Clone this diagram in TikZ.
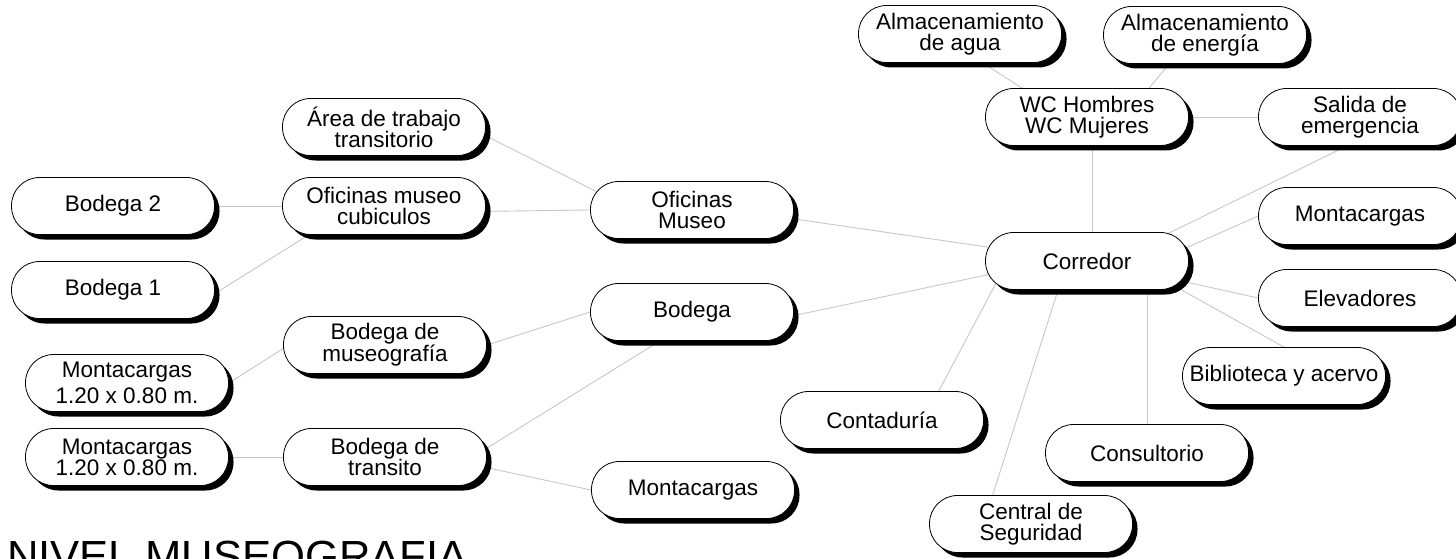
\documentclass[tikz,border=0pt]{standalone}
\usepackage{fontspec}
\setmainfont{Liberation Sans}
\usetikzlibrary{shadows,backgrounds}
\begin{document}
\begin{tikzpicture}[x=1pt,y=-1pt,
  room/.style={draw=black, line width=0.8pt, fill=white, rounded corners=28pt,
    minimum width=203pt, minimum height=57pt, inner sep=0pt, align=center,
    font=\fontsize{22.5}{21}\selectfont,
    drop shadow={shadow xshift=5pt, shadow yshift=-5pt, fill=black, opacity=1}},
  loose/.style={font=\fontsize{22.5}{26}\selectfont},
  link/.style={draw=black!22, line width=0.9pt, shorten <=-12pt, shorten >=-12pt}]
\useasboundingbox (0,0) rectangle (1456,559);
\clip (0,0) rectangle (1456,559);

% right-hand cluster around the corridor
\node[room] (agua)     at (960,34)   {Almacenamiento\\de agua};
\node[room] (energia)  at (1205,35)  {Almacenamiento\\de energía};
\node[room] (wc)       at (1087,117) {WC Hombres\\WC Mujeres};
\node[room] (salida)   at (1360,117) {Salida de\\emergencia};
\node[room] (montR)    at (1360,216) {Montacargas};
\node[room] (elev)     at (1360,298) {Elevadores};
\node[room] (biblio)   at (1284,376) {Biblioteca y acervo};
\node[room] (corredor) at (1087,261) {Corredor};
\node[room] (consul)   at (1147,453) {Consultorio};
\node[room] (conta)    at (882,420)  {Contaduría};
\node[room] (central)  at (1031,524) {Central de\\Seguridad};

% middle column
\node[room] (ofMuseo)  at (692,210)  {Oficinas\\Museo};
\node[room] (bodega)   at (692,312)  {Bodega};
\node[room] (montB)    at (693,490)  {Montacargas};

% left columns
\node[room] (area)     at (384,127)  {Área de trabajo\\transitorio};
\node[room] (ofcub)    at (384,206)  {Oficinas museo\\cubiculos};
\node[room] (bodmus)   at (385,345)  {Bodega de\\museografía};
\node[room] (bodtra)   at (385,457)  {Bodega de\\transito};
\node[room] (bod2)     at (113,206)  {Bodega 2};
\node[room] (bod1)     at (113,290)  {Bodega 1};
\node[room,loose] (mont1) at (127,383) {Montacargas\\1.20 x 0.80 m.};
\node[room] (mont2)    at (127,457)  {Montacargas\\1.20 x 0.80 m.};

\node[anchor=base west, inner sep=0pt, font=\fontsize{43.6}{44}\selectfont]
  (title) at (7,571) {NIVEL MUSEOGRAFIA};

\begin{scope}[on background layer]
  \draw[link] (area.-5) -- (ofMuseo.168);
  \draw[link] (ofcub.-3) -- (ofMuseo.west);
  \draw[link] (bod2.east) -- (ofcub.west);
  \draw[link] (bod1.-2) -- (ofcub.-159);
  \draw[link] (mont1.east) -- (bodmus.182);
  \draw[link] (mont2.east) -- (bodtra.west);
  \draw[link] (bodmus.east) -- (bodega.west);
  \draw[link] (bodtra.5) -- (bodega.-138);
  \draw[link] (bodtra.-6) -- (montB.west);
  \draw[link] (ofMuseo.-5) -- (corredor.172);
  \draw[link] (bodega.-2) -- (corredor.-172);
  \draw[link] ([xshift=5pt]wc.south) -- ([xshift=5pt]corredor.north);
  \draw[link] (wc.156) -- (agua.-52);
  \draw[link] (wc.25) -- (energia.-141);
  \draw[link] (wc.east) -- (salida.west);
  \draw[link] (corredor.19) -- (salida.-114);
  \draw[link] (corredor.8) -- (montR.west);
  \draw[link] (corredor.-12) -- (elev.west);
  \draw[link] (corredor.-17) -- (biblio.north);
  \draw[link] (corredor.-163) -- (conta.27);
  \draw[link] (corredor.-135) -- (central.143);
  \draw[link] (consul.north) -- (consul.north |- corredor.south);
\end{scope}
\end{tikzpicture}
\end{document}
